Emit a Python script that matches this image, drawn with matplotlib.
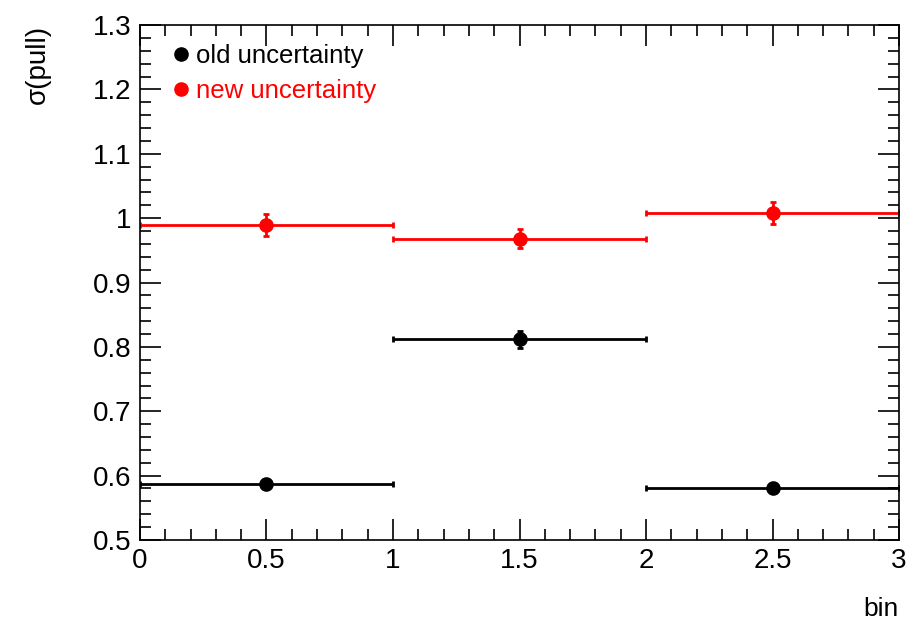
import matplotlib
matplotlib.use("Agg")
import matplotlib.pyplot as plt
from matplotlib.lines import Line2D
from matplotlib.ticker import MultipleLocator, FormatStrFormatter
import numpy as np

plt.rcParams['font.family'] = ['Liberation Sans', 'DejaVu Sans']

bins = np.array([0.5, 1.5, 2.5])
bin_half = np.array([0.5, 0.5, 0.5])
old_sigma = np.array([0.587, 0.812, 0.581])
old_err = np.array([0.008, 0.013, 0.007])
new_sigma = np.array([0.990, 0.968, 1.008])
new_err = np.array([0.017, 0.015, 0.017])
labels = ["old uncertainty", "new uncertainty"]
colors = ["black", "red"]

fig = plt.figure(figsize=(9.06, 6.26), dpi=100)
ax = fig.add_axes([0.1545, 0.1374, 0.8378, 0.8226])

for y, e, c in zip([old_sigma, new_sigma], [old_err, new_err], colors):
	ax.errorbar(
		bins, y,
		xerr = bin_half, yerr = e,
		fmt = "o", color = c,
		markersize = 9.5, elinewidth = 2, capsize = 2.5, capthick = 2
	)

ax.set_xlim(0, 3)
ax.set_ylim(0.5, 1.3)

ax.xaxis.set_major_locator(MultipleLocator(0.5))
ax.xaxis.set_minor_locator(MultipleLocator(0.1))
ax.yaxis.set_major_locator(MultipleLocator(0.1))
ax.yaxis.set_minor_locator(MultipleLocator(0.02))
ax.xaxis.set_major_formatter(FormatStrFormatter('%g'))
ax.yaxis.set_major_formatter(FormatStrFormatter('%g'))

ax.tick_params(which = "both", direction = "in", top = True, right = True,
	labelsize = 20, width = 1.2)
ax.tick_params(which = "major", length = 15, pad = 6)
ax.tick_params(which = "minor", length = 8)
for s in ax.spines.values():
	s.set_linewidth(1.2)

ax.set_xlabel("bin", fontsize = 19, ha = "right", va = "top")
ax.xaxis.set_label_coords(1.0, -0.11)
ax.set_ylabel("σ(pull)", fontsize = 20, ha = "right")
ax.yaxis.set_label_coords(-0.118, 1.0)

handles = [Line2D([], [], ls = "none", marker = "o", markersize = 9.5, color = c) for c in colors]
leg = ax.legend(
	handles, labels,
	loc = "upper left", bbox_to_anchor = (0.006, 1.008),
	frameon = False, fontsize = 18.5, handletextpad = 0.1,
	labelspacing = 0.42, handlelength = 1.0
)
for txt, col in zip(leg.get_texts(), colors):
	txt.set_color(col)

fig.savefig("out.png", dpi = 100)
